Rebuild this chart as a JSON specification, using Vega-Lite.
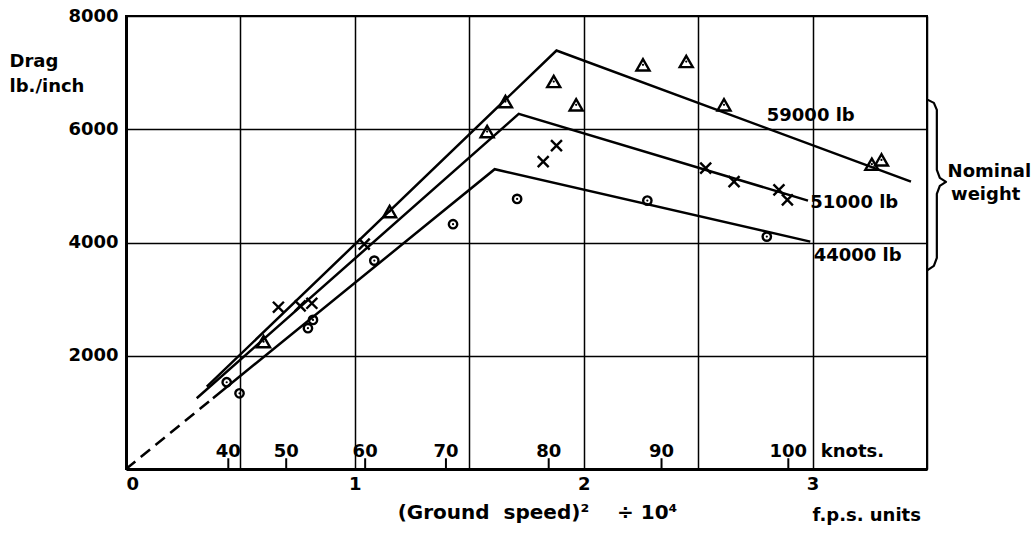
{
  "$schema": "https://vega.github.io/schema/vega-lite/v6.json",
  "width": 801,
  "height": 453,
  "autosize": {"type": "none"},
  "padding": {"left": 126, "top": 16, "right": 108, "bottom": 65},
  "background": "white",
  "config": {
    "view": {"stroke": "black", "strokeWidth": 2},
    "font": "DejaVu Sans",
    "axis": {
      "labelFont": "DejaVu Sans",
      "labelFontSize": 18,
      "labelFontWeight": "bold",
      "labelColor": "black",
      "titleFont": "DejaVu Sans",
      "titleFontSize": 18,
      "titleFontWeight": "bold",
      "titleColor": "black",
      "grid": true,
      "gridColor": "black",
      "gridWidth": 1.5,
      "gridOpacity": 1,
      "domainColor": "black",
      "domainWidth": 3,
      "ticks": false
    },
    "text": {"font": "DejaVu Sans", "fontWeight": "bold", "fontSize": 18, "color": "black"}
  },
  "datasets": {
    "curves": [
      {"curve": "59000 lb", "order": 1, "x": 0.353, "y": 1454},
      {"curve": "59000 lb", "order": 2, "x": 1.881, "y": 7390},
      {"curve": "59000 lb", "order": 3, "x": 3.43, "y": 5076},
      {"curve": "51000 lb", "order": 1, "x": 0.309, "y": 1249},
      {"curve": "51000 lb", "order": 2, "x": 1.716, "y": 6272},
      {"curve": "51000 lb", "order": 3, "x": 2.98, "y": 4740},
      {"curve": "44000 lb", "order": 1, "x": 0.38, "y": 1250},
      {"curve": "44000 lb", "order": 2, "x": 1.611, "y": 5295},
      {"curve": "44000 lb", "order": 3, "x": 2.99, "y": 4016}
    ],
    "extrapolation": [
      {"order": 1, "x": 0, "y": 0},
      {"order": 2, "x": 0.38, "y": 1250}
    ],
    "obs": [
      {"weight": "59000 lb", "x": 0.601, "y": 2249},
      {"weight": "59000 lb", "x": 1.152, "y": 4546},
      {"weight": "59000 lb", "x": 1.578, "y": 5959},
      {"weight": "59000 lb", "x": 1.658, "y": 6489},
      {"weight": "59000 lb", "x": 1.869, "y": 6843},
      {"weight": "59000 lb", "x": 1.967, "y": 6431},
      {"weight": "59000 lb", "x": 2.259, "y": 7138},
      {"weight": "59000 lb", "x": 2.448, "y": 7196},
      {"weight": "59000 lb", "x": 2.613, "y": 6431},
      {"weight": "59000 lb", "x": 3.259, "y": 5383},
      {"weight": "59000 lb", "x": 3.301, "y": 5459},
      {"weight": "51000 lb", "x": 0.666, "y": 2857},
      {"weight": "51000 lb", "x": 0.761, "y": 2880},
      {"weight": "51000 lb", "x": 0.812, "y": 2927},
      {"weight": "51000 lb", "x": 1.041, "y": 3970},
      {"weight": "51000 lb", "x": 1.823, "y": 5429},
      {"weight": "51000 lb", "x": 1.881, "y": 5712},
      {"weight": "51000 lb", "x": 2.533, "y": 5313},
      {"weight": "51000 lb", "x": 2.657, "y": 5076},
      {"weight": "51000 lb", "x": 2.853, "y": 4929},
      {"weight": "51000 lb", "x": 2.89, "y": 4753},
      {"weight": "44000 lb", "x": 0.44, "y": 1532},
      {"weight": "44000 lb", "x": 0.496, "y": 1337},
      {"weight": "44000 lb", "x": 0.795, "y": 2486},
      {"weight": "44000 lb", "x": 0.817, "y": 2633},
      {"weight": "44000 lb", "x": 1.085, "y": 3680},
      {"weight": "44000 lb", "x": 1.429, "y": 4323},
      {"weight": "44000 lb", "x": 1.709, "y": 4770},
      {"weight": "44000 lb", "x": 2.278, "y": 4740},
      {"weight": "44000 lb", "x": 2.8, "y": 4104}
    ],
    "knots": [
      {"knots": "40", "x": 0.447},
      {"knots": "50", "x": 0.70},
      {"knots": "60", "x": 1.045},
      {"knots": "70", "x": 1.398},
      {"knots": "80", "x": 1.847},
      {"knots": "90", "x": 2.34},
      {"knots": "100", "x": 2.894}
    ],
    "notes": [
      {"text": "59000 lb", "x": 2.80, "y": 6148},
      {"text": "51000 lb", "x": 2.99, "y": 4611},
      {"text": "44000 lb", "x": 3.005, "y": 3675},
      {"text": "Nominal", "x": 3.59, "y": 5159},
      {"text": "weight", "x": 3.605, "y": 4753},
      {"text": "knots.", "x": 3.036, "y": 215},
      {"text": "f.p.s. units", "x": 3.0, "y": -910}
    ],
    "brace": [
      {"order": 1, "x": 3.504, "y": 6519},
      {"order": 2, "x": 3.530, "y": 6466},
      {"order": 3, "x": 3.543, "y": 6343},
      {"order": 4, "x": 3.543, "y": 5283},
      {"order": 5, "x": 3.556, "y": 5141},
      {"order": 6, "x": 3.583, "y": 5071},
      {"order": 7, "x": 3.556, "y": 5000},
      {"order": 8, "x": 3.543, "y": 4859},
      {"order": 9, "x": 3.543, "y": 3728},
      {"order": 10, "x": 3.530, "y": 3587},
      {"order": 11, "x": 3.504, "y": 3516}
    ]
  },
  "layer": [
    {
      "data": {"name": "curves"},
      "mark": {"type": "line", "color": "black", "strokeWidth": 2.5},
      "encoding": {
        "x": {
          "field": "x",
          "type": "quantitative",
          "scale": {"domain": [0, 3.5], "nice": false, "zero": false},
          "axis": {
            "values": [0, 0.5, 1, 1.5, 2, 2.5, 3, 3.5],
            "labelExpr": "datum.value % 1 === 0 && datum.value < 3.5 ? format(datum.value, 'd') : ''",
            "labelPadding": 6,
            "labelBaseline": "top",
            "title": "(Ground\u00a0\u00a0speed)²\u00a0\u00a0\u00a0\u00a0÷\u00a010⁴",
            "titleFontSize": 20,
            "titleX": 411,
            "titleY": 49,
            "titleAlign": "center",
            "titleBaseline": "alphabetic",
            "titleAnchor": null
          }
        },
        "y": {
          "field": "y",
          "type": "quantitative",
          "scale": {"domain": [0, 8000], "nice": false},
          "axis": {
            "values": [0, 2000, 4000, 6000, 8000],
            "labelExpr": "datum.value === 0 ? '' : format(datum.value, 'd')",
            "labelPadding": 8,
            "title": ["Drag", "lb./inch"],
            "titleAngle": 0,
            "titleAlign": "left",
            "titleBaseline": "alphabetic",
            "titleX": -117,
            "titleY": 50,
            "titleLineHeight": 25,
            "titleAnchor": null
          }
        },
        "detail": {"field": "curve"},
        "order": {"field": "order"}
      }
    },
    {
      "data": {"name": "extrapolation"},
      "mark": {"type": "line", "color": "black", "strokeWidth": 2.5, "strokeDash": [12, 7]},
      "encoding": {
        "x": {"field": "x", "type": "quantitative"},
        "y": {"field": "y", "type": "quantitative"},
        "order": {"field": "order"}
      }
    },
    {
      "data": {"name": "obs"},
      "mark": {"type": "point", "filled": false, "color": "black", "strokeWidth": 2.4, "opacity": 1},
      "encoding": {
        "x": {"field": "x", "type": "quantitative"},
        "y": {"field": "y", "type": "quantitative"},
        "shape": {
          "field": "weight",
          "type": "nominal",
          "scale": {
            "domain": ["59000 lb", "51000 lb", "44000 lb"],
            "range": ["triangle-up", "M-1,-1L1,1M1,-1L-1,1", "circle"]
          },
          "legend": null
        },
        "size": {
          "field": "weight",
          "type": "nominal",
          "scale": {"domain": ["59000 lb", "51000 lb", "44000 lb"], "range": [170, 70, 64]},
          "legend": null
        }
      }
    },
    {
      "data": {"name": "obs"},
      "transform": [{"filter": "datum.weight !== '51000 lb'"}],
      "mark": {"type": "point", "filled": true, "color": "black", "size": 5, "opacity": 1},
      "encoding": {
        "x": {"field": "x", "type": "quantitative"},
        "y": {"field": "y", "type": "quantitative"}
      }
    },
    {
      "data": {"name": "knots"},
      "mark": {"type": "rule", "color": "black", "strokeWidth": 2},
      "encoding": {
        "x": {"field": "x", "type": "quantitative"},
        "y": {"datum": 0},
        "y2": {"datum": 190}
      }
    },
    {
      "data": {"name": "knots"},
      "mark": {"type": "text", "align": "center", "baseline": "alphabetic"},
      "encoding": {
        "x": {"field": "x", "type": "quantitative"},
        "y": {"datum": 215},
        "text": {"field": "knots"}
      }
    },
    {
      "data": {"name": "notes"},
      "mark": {"type": "text", "align": "left", "baseline": "alphabetic"},
      "encoding": {
        "x": {"field": "x", "type": "quantitative"},
        "y": {"field": "y", "type": "quantitative"},
        "text": {"field": "text"}
      }
    },
    {
      "data": {"name": "brace"},
      "mark": {"type": "line", "color": "black", "strokeWidth": 2.2, "strokeCap": "round", "strokeJoin": "round"},
      "encoding": {
        "x": {"field": "x", "type": "quantitative"},
        "y": {"field": "y", "type": "quantitative"},
        "order": {"field": "order"}
      }
    }
  ]
}
